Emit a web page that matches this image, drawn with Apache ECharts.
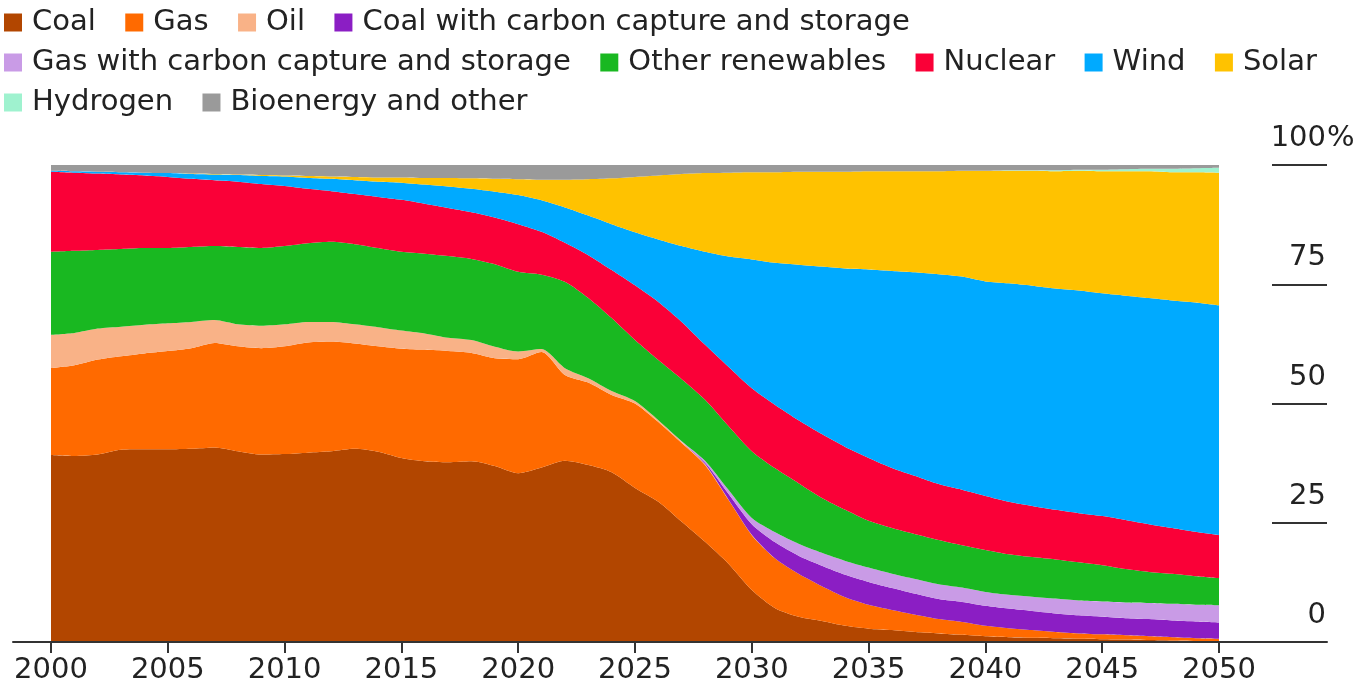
<!DOCTYPE html>
<html>
<head>
<meta charset="utf-8">
<script src="https://cdn.jsdelivr.net/npm/echarts@6/dist/echarts.min.js"></script>
<style>
  html, body { margin: 0; padding: 0; background: #ffffff; }
  #chart { width: 1359px; height: 686px; }
</style>
</head>
<body>
<div id="chart"></div>
<script>
const years = ['2000','2001','2002','2003','2004','2005','2006','2007','2008','2009',
  '2010','2011','2012','2013','2014','2015','2016','2017','2018','2019',
  '2020','2021','2022','2023','2024','2025','2026','2027','2028','2029',
  '2030','2031','2032','2033','2034','2035','2036','2037','2038','2039',
  '2040','2041','2042','2043','2044','2045','2046','2047','2048','2049','2050'];

const coal = [39.2,39.0,39.3,40.3,40.4,40.4,40.5,40.8,40.0,39.3,
  39.4,39.7,40.0,40.5,39.9,38.6,37.9,37.7,37.9,36.9,
  35.4,36.6,38.0,37.1,35.6,32.3,29.4,25.2,21.0,16.4,
  10.9,7.1,5.3,4.4,3.4,2.8,2.5,2.1,1.8,1.5,
  1.2,1.0,0.9,0.8,0.7,0.6,0.5,0.4,0.3,0.2,0.1];
const gas = [18.2,19.0,19.9,19.6,20.1,20.6,21.1,21.9,22.0,22.3,
  22.6,23.1,23.0,22.1,22.1,22.9,23.4,23.3,22.7,22.6,
  23.9,24.2,18.0,17.3,16.2,17.7,16.7,16.5,16.1,13.4,
  11.5,10.4,9.0,7.3,6.0,5.0,4.2,3.6,3.0,2.7,
  2.2,1.9,1.6,1.3,1.1,1.0,0.9,0.8,0.7,0.6,0.6];
const oil = [7.0,6.8,6.5,6.2,6.0,5.8,5.5,4.8,4.6,4.7,
  4.6,4.3,4.1,4.0,4.0,3.8,3.4,2.8,2.7,2.4,
  1.6,0.6,1.4,0.9,0.8,0.5,0.4,0.3,0.2,0.1,
  0.1,0,0,0,0,0,0,0,0,0,
  0,0,0,0,0,0,0,0,0,0,0];
const coalCcs = [0,0,0,0,0,0,0,0,0,0,
  0,0,0,0,0,0,0,0,0,0,
  0,0,0,0,0,0,0,0,0.3,1.2,
  2.2,3.4,3.8,4.3,4.7,4.8,4.6,4.4,4.2,4.2,
  4.2,4.1,4.0,3.9,3.8,3.7,3.6,3.6,3.5,3.5,3.4];
const gasCcs = [0,0,0,0,0,0,0,0,0,0,
  0,0,0,0,0,0,0,0,0,0,
  0,0,0,0,0,0,0,0.1,0.4,0.8,
  1.3,2.1,2.5,2.7,2.9,3.0,3.0,3.1,3.1,3.0,
  2.9,2.9,3.0,3.1,3.1,3.2,3.3,3.4,3.5,3.5,3.6];
const otherRenewables = [17.4,17.2,16.5,16.3,16.1,15.8,15.7,15.5,16.2,16.3,
  16.4,16.5,16.8,16.8,16.6,16.5,16.7,17.1,17.0,17.3,
  16.7,15.6,18.1,16.8,15.3,12.8,12.6,13.0,12.8,13.4,
  14.0,13.4,12.7,11.5,10.7,9.8,9.6,9.4,9.3,8.9,
  8.8,8.5,8.3,8.2,8.0,7.6,7.0,6.5,6.3,6.0,5.7];
const nuclear = [16.8,16.4,16.0,15.6,15.2,14.9,14.3,13.8,13.7,13.4,
  12.6,11.4,10.6,10.5,10.7,10.9,10.5,10.1,9.8,9.8,
  10.0,9.0,8.2,9.0,10.1,11.5,12.2,12.0,11.5,12.4,
  13.2,13.3,13.2,13.4,13.2,13.2,12.6,12.2,11.7,11.6,
  11.3,11.0,10.7,10.4,10.3,10.3,10.3,10.0,9.6,9.3,9.0];
const wind = [0.2,0.3,0.4,0.5,0.6,0.8,1.0,1.2,1.4,1.7,
  2.0,2.3,2.6,2.9,3.2,3.6,4.0,4.5,4.9,5.4,
  6.1,6.6,7.4,8.3,9.6,11.1,13.1,15.9,19.5,23.1,
  27.0,29.8,32.6,35.1,37.4,39.5,41.3,42.7,44.0,44.7,
  45.0,45.8,46.2,46.4,46.7,46.7,47.0,47.4,47.7,48.1,48.2];
const solar = [0,0,0,0,0,0,0.1,0.1,0.1,0.2,
  0.2,0.4,0.5,0.7,0.9,1.1,1.4,1.8,2.2,2.7,
  3.3,4.3,5.8,7.6,9.6,11.6,13.4,15.1,16.5,17.6,
  18.3,19.0,19.5,19.9,20.3,20.6,20.9,21.2,21.6,22.2,
  23.2,23.6,24.1,24.6,25.1,25.6,26.1,26.6,26.9,27.3,27.8];
const hydrogen = [0,0,0,0,0,0,0,0,0,0,
  0,0,0,0,0,0,0,0,0,0,
  0,0,0,0,0,0,0,0,0,0,
  0,0,0,0,0,0,0,0,0,0,
  0,0.1,0.1,0.2,0.2,0.3,0.4,0.5,0.7,0.8,1.0];
const bioenergy = [1.2,1.3,1.4,1.5,1.6,1.7,1.8,1.9,2.0,2.1,
  2.2,2.3,2.4,2.5,2.6,2.6,2.7,2.7,2.8,2.9,
  3.0,3.1,3.1,3.0,2.8,2.5,2.2,1.9,1.7,1.6,
  1.5,1.5,1.4,1.4,1.4,1.3,1.3,1.3,1.3,1.2,
  1.2,1.2,1.1,1.1,1.0,1.0,0.9,0.8,0.8,0.7,0.6];

const seriesNames = ['Coal','Gas','Oil','Coal with carbon capture and storage',
  'Gas with carbon capture and storage','Other renewables','Nuclear','Wind','Solar',
  'Hydrogen','Bioenergy and other'];
const seriesValues = [coal, gas, oil, coalCcs, gasCcs, otherRenewables, nuclear, wind, solar, hydrogen, bioenergy];
const seriesColors = ['#b24600','#ff6a00','#f9b287','#8b1ec4','#c99be6','#19b821','#fa0037','#00aaff','#ffc200','#9ff2cf','#9a9a9a'];

const yTicks = [0, 25, 50, 75, 100];
const legendRows = [4, 9]; // legend line breaks before these item indices

const FONT = 'DejaVu Sans';
const TXT = '#222222';

const legendData = [];
seriesNames.forEach((n, i) => {
  if (legendRows.indexOf(i) >= 0) legendData.push('');
  legendData.push(n);
});

const series = seriesNames.map((name, i) => ({
  name: name,
  type: 'line',
  xAxisIndex: 0, yAxisIndex: 0,
  stack: 'total',
  smooth: 0.25,
  symbol: 'none',
  showSymbol: false,
  lineStyle: { width: 0, color: seriesColors[i] },
  itemStyle: { color: seriesColors[i] },
  areaStyle: { color: seriesColors[i], opacity: 1 },
  data: seriesValues[i]
}));

const chart = echarts.init(document.getElementById('chart'), null, { renderer: 'canvas' });
chart.setOption({
  animation: false,
  backgroundColor: '#ffffff',
  legend: {
    data: legendData,
    orient: 'horizontal', icon: 'rect', itemWidth: 18, itemHeight: 18, itemGap: 11,
    padding: 0, left: 4, top: 8,
    formatter: name => name + '  ',
    textStyle: { fontFamily: FONT, fontSize: 29, color: TXT, padding: [0, 0, 0, 5] }
  },
  grid: [
    { left: 51, right: 140, top: 165, bottom: 44 },
    { left: 13, right: 32, top: 165, bottom: 44 }
  ],
  xAxis: [
    {
      gridIndex: 0, type: 'category', data: years, boundaryGap: false,
      axisLine: { show: false },
      axisTick: { show: true, interval: 4, length: 11, lineStyle: { color: '#333', width: 2 } },
      axisLabel: { interval: 4, fontFamily: FONT, fontSize: 29, color: TXT, margin: 14 },
      splitLine: { show: false }
    },
    {
      gridIndex: 1, type: 'value', min: 0, max: 1, z: 10,
      axisLine: { show: true, onZero: false, lineStyle: { color: '#333', width: 2 } },
      axisTick: { show: false }, axisLabel: { show: false }, splitLine: { show: false }
    }
  ],
  yAxis: [
    { gridIndex: 0, type: 'value', min: 0, max: 100, show: false },
    {
      gridIndex: 1, type: 'value', position: 'right', min: yTicks[0], max: yTicks[yTicks.length - 1], interval: 25,
      axisLine: { show: false, onZero: false },
      axisTick: { show: true, inside: true, length: 55, lineStyle: { color: '#333', width: 2 } },
      axisLabel: {
        inside: true, margin: 1, align: 'right', verticalAlign: 'bottom', padding: [0, 0, 12, 0],
        fontFamily: FONT, fontSize: 29, color: TXT, lineHeight: 29,
        formatter: v => String(v)
      },
      name: '%', nameLocation: 'end', nameGap: 0, nameMoveOverlap: false,
      nameTextStyle: {
        align: 'left', verticalAlign: 'bottom', padding: [0, 0, 12, 0],
        fontFamily: FONT, fontSize: 29, color: TXT, lineHeight: 29
      },
      splitLine: { show: false }
    }
  ],
  series: series
});
</script>
</body>
</html>
